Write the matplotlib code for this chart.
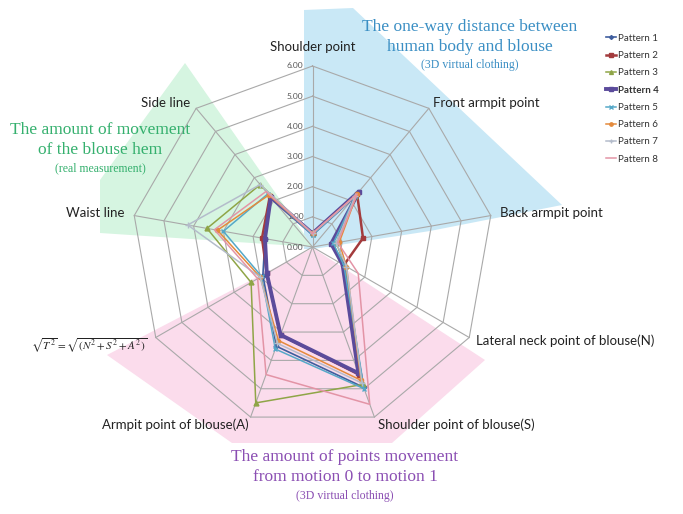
import numpy as np
import matplotlib
matplotlib.use("Agg")
import matplotlib.pyplot as plt
from matplotlib.patches import Polygon

# ---------------- data ----------------
axis_labels = ["Shoulder point", "Front armpit point", "Back armpit point",
               "Lateral neck point of blouse(N)", "Shoulder point of blouse(S)",
               "Armpit point of blouse(A)", r"$\sqrt{T^2}=\sqrt{(N^2+S^2+A^2)}$",
               "Waist line", "Side line"]
series_names = ["Pattern 1", "Pattern 2", "Pattern 3", "Pattern 4",
                "Pattern 5", "Pattern 6", "Pattern 7", "Pattern 8"]
pattern1 = [0.45, 2.30, 0.65, 1.15, 4.95, 3.50, 1.90, 1.60, 2.15]
pattern2 = [0.45, 2.30, 1.70, 1.20, 4.50, 3.10, 1.75, 1.70, 2.20]
pattern3 = [0.45, 2.20, 0.80, 1.25, 4.85, 5.50, 2.35, 3.55, 2.70]
pattern4 = [0.45, 2.40, 0.63, 1.15, 4.45, 3.10, 1.75, 1.60, 2.15]
pattern5 = [0.40, 2.20, 0.70, 1.20, 5.00, 3.60, 1.95, 3.00, 2.30]
pattern6 = [0.45, 2.30, 0.90, 1.30, 4.70, 3.30, 2.00, 3.20, 2.25]
pattern7 = [0.45, 2.20, 0.80, 1.30, 4.80, 3.40, 2.00, 4.20, 2.70]
pattern8 = [0.45, 2.30, 0.85, 1.75, 5.55, 4.50, 2.10, 3.30, 2.40]
radial_ticks = [0, 1, 2, 3, 4, 5, 6]

series = [pattern1, pattern2, pattern3, pattern4, pattern5, pattern6, pattern7, pattern8]
colors = ["#3f5e9e", "#a33b3d", "#8fa547", "#5b4b9b", "#55a8c8", "#e48a3c", "#b4bccb", "#e394a6"]
widths = [1.2, 1.8, 1.1, 2.8, 1.1, 1.1, 1.1, 1.1]
markers = ["D", "s", "^", "s", "x", "o", "+", None]
msizes = [2.5, 3.5, 3.5, 3.0, 3.5, 3.0, 4.0, 0]

W, H = 683, 514
fig = plt.figure(figsize=(W / 100, H / 100), dpi=100)

def fx(x):
    return x / W

def fy(y):
    return 1 - y / H

# ---------------- shaded zones ----------------
def zone(pts, color):
    poly = Polygon([(fx(x), fy(y)) for x, y in pts], closed=True,
                   transform=fig.transFigure, facecolor=color, edgecolor="none", zorder=-5)
    fig.add_artist(poly)

zone([(304, 10), (353, 8), (562, 205), (430, 231), (313, 249), (304, 249)], "#c9e8f6")
zone([(185, 63), (313, 247), (100, 233), (100, 180)], "#d6f5e1")
zone([(313, 248), (485, 360), (392, 443), (232, 443), (107, 355)], "#fbdcec")

# ---------------- radar axes ----------------
cx, cy, R = 312.5, 247, 181
ax = fig.add_axes([fx(cx - R), fy(cy + R), 2 * R / W, 2 * R / H], projection="polar")
ax.set_theta_offset(np.pi / 2)
ax.set_theta_direction(-1)
ax.set_ylim(0, 6)
ax.set_facecolor("none")
ax.spines["polar"].set_visible(False)
ax.set_xticks([])
ax.set_yticks([])
ax.grid(False)

n = len(axis_labels)
angles = np.linspace(0, 2 * np.pi, n, endpoint=False)
closed = np.concatenate([angles, angles[:1]])

gridc = "#a9a9a9"
for r in radial_ticks[1:]:
    ax.plot(closed, [r] * (n + 1), color=gridc, lw=0.8, zorder=1, clip_on=False)
for a in angles:
    ax.plot([a, a], [0, radial_ticks[-1]], color=gridc, lw=0.8, zorder=1, clip_on=False)

for r in radial_ticks:
    ax.annotate(f"{r:.2f}", xy=(0, r), xytext=(-9, 0), textcoords="offset pixels",
                ha="right", va="center", fontsize=6, color="#555555",
                family="Lato", annotation_clip=False)

# data lines
handles = []
for vals, name, c, lw, m, ms in zip(series, series_names, colors, widths, markers, msizes):
    v = list(vals) + [vals[0]]
    h, = ax.plot(closed, v, color=c, lw=lw, marker=m, ms=ms, mew=1.0, label=name,
                 zorder=3, clip_on=False)
    handles.append(h)

# axis labels
offsets = [(0, 19, "center"), (4, 5, "left"), (9, 3, "left"), (7, -3, "left"),
           (4, -8, "left"), (-2, -8, "right"), (-8, -8, "right"), (-10, 3, "right"),
           (-6, 5, "right")]
for a, lab, (dx, dy, ha) in zip(angles, axis_labels, offsets):
    if lab.startswith("$"):
        ax.annotate(lab, xy=(a, 6), xytext=(dx, dy), textcoords="offset pixels",
                    ha=ha, va="center", fontsize=8, color="#222222",
                    annotation_clip=False, math_fontfamily="stix")
    else:
        ax.annotate(lab, xy=(a, 6), xytext=(dx, dy), textcoords="offset pixels",
                    ha=ha, va="center", fontsize=9.5, color="#222222",
                    family="Lato", annotation_clip=False)

# ---------------- annotations ----------------
serif = "Liberation Serif"
blue_t = "#3b8fc4"
fig.text(fx(470), fy(27), "The one-way distance between", ha="center", va="center",
         fontsize=12.5, color=blue_t, family=serif)
fig.text(fx(470), fy(47), "human body and blouse", ha="center", va="center",
         fontsize=12.5, color=blue_t, family=serif)
fig.text(fx(470), fy(65), "(3D virtual clothing)", ha="center", va="center",
         fontsize=8.5, color=blue_t, family=serif)

green_t = "#35b06e"
fig.text(fx(100), fy(130), "The amount of movement", ha="center", va="center",
         fontsize=12.5, color=green_t, family=serif)
fig.text(fx(100), fy(150), "of the blouse hem", ha="center", va="center",
         fontsize=12.5, color=green_t, family=serif)
fig.text(fx(100), fy(168), "(real measurement)", ha="center", va="center",
         fontsize=8.5, color=green_t, family=serif)

purple_t = "#8b4fb3"
fig.text(fx(345), fy(457), "The amount of points movement", ha="center", va="center",
         fontsize=12.5, color=purple_t, family=serif)
fig.text(fx(345), fy(477), "from motion 0 to motion 1", ha="center", va="center",
         fontsize=12.5, color=purple_t, family=serif)
fig.text(fx(345), fy(496), "(3D virtual clothing)", ha="center", va="center",
         fontsize=8.5, color=purple_t, family=serif)

# legend
leg = fig.legend(handles=handles, loc="upper left", bbox_to_anchor=(fx(601), fy(29)),
                 frameon=False, fontsize=7, handlelength=1.0, handletextpad=0.2,
                 labelspacing=0.85, borderpad=0, markerscale=0.8,
                 prop={"family": "Lato", "size": 7})
for t in leg.get_texts():
    t.set_color("#333333")
leg.get_texts()[3].set_fontweight("bold")

fig.savefig("out.png", dpi=100)
